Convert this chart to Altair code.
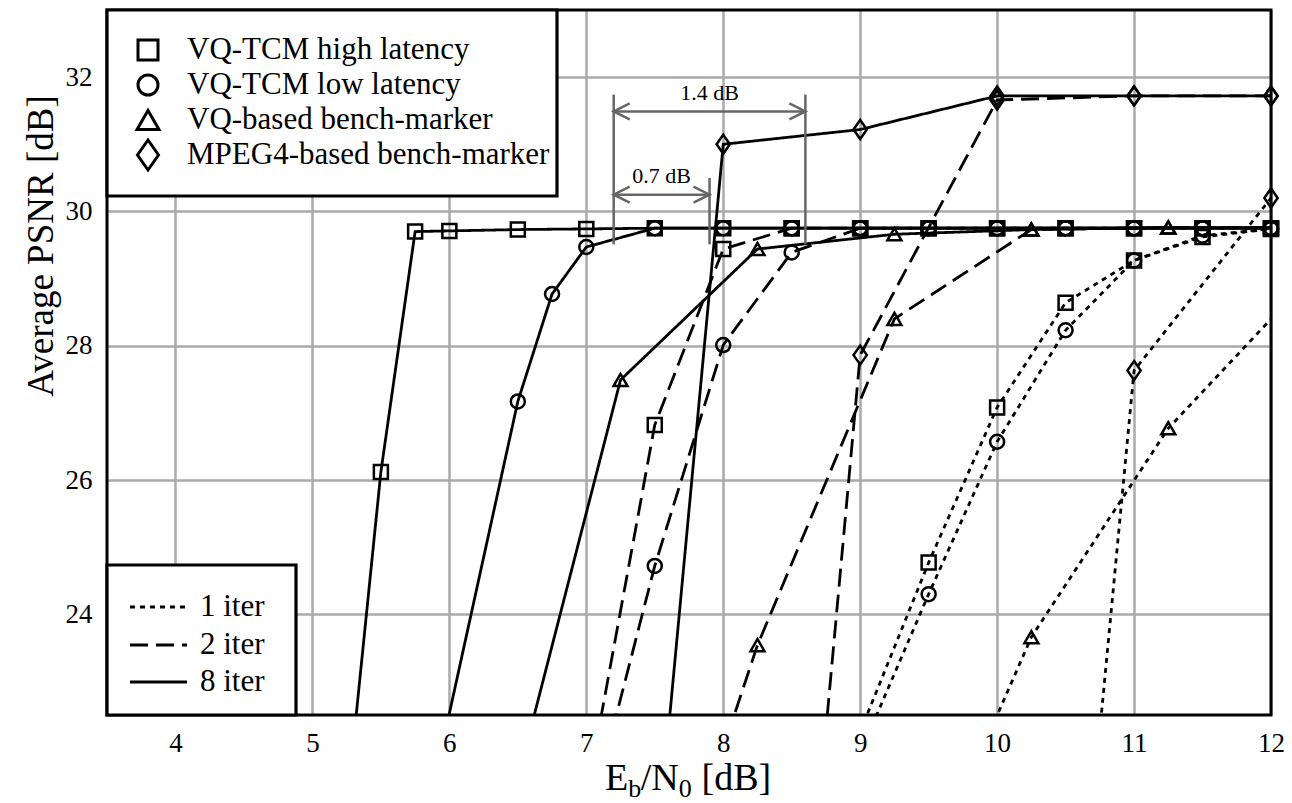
import altair as alt
import pandas as pd

# ---------------- data ----------------
x_ticks = [4, 5, 6, 7, 8, 9, 10, 11, 12]
y_ticks = [24, 26, 28, 30, 32]

scheme_names = ["VQ-TCM high latency", "VQ-TCM low latency",
                "VQ-based bench-marker", "MPEG4-based bench-marker"]
iter_names = ["1 iter", "2 iter", "8 iter"]

# VQ-TCM high latency (squares)
hl1_x = [9.0, 9.5, 10.0, 10.5, 11.0, 11.5, 12.0]
hl1_y = [22.25, 24.77, 27.08, 28.64, 29.27, 29.62, 29.74]
hl2_x = [7.0, 7.5, 8.0, 8.5, 9.0, 9.5, 10.0, 10.5, 11.0, 11.5, 12.0]
hl2_y = [21.28, 26.82, 29.44, 29.75, 29.75, 29.75, 29.75, 29.75, 29.75, 29.75, 29.75]
hl8_x = [5.25, 5.5, 5.75, 6.0, 6.5, 7.0, 7.5, 8.0, 8.5, 9.0, 9.5, 10.0, 10.5, 11.0, 11.5, 12.0]
hl8_y = [21.1, 26.12, 29.70, 29.71, 29.73, 29.74, 29.75, 29.75, 29.75, 29.75, 29.75, 29.75,
         29.75, 29.75, 29.75, 29.75]
# VQ-TCM low latency (circles)
ll1_x = [9.0, 9.5, 10.0, 10.5, 11.0, 11.5, 12.0]
ll1_y = [21.93, 24.30, 26.57, 28.23, 29.27, 29.64, 29.74]
ll2_x = [7.0, 7.5, 8.0, 8.5, 9.0, 9.5, 10.0, 10.5, 11.0, 11.5, 12.0]
ll2_y = [20.76, 24.72, 28.01, 29.39, 29.75, 29.75, 29.75, 29.75, 29.75, 29.75, 29.75]
ll8_x = [5.75, 6.5, 6.75, 7.0, 7.5, 8.0, 8.5, 9.0, 9.5, 10.0, 10.5, 11.0, 11.5, 12.0]
ll8_y = [20.2, 27.17, 28.77, 29.47, 29.75, 29.75, 29.75, 29.75, 29.75, 29.75, 29.75,
         29.75, 29.75, 29.75]
# VQ-based bench-marker (triangles)
vq1_x = [9.25, 10.25, 11.25, 12.25]
vq1_y = [19.0, 23.66, 26.77, 28.94]
vq2_x = [7.25, 8.25, 9.25, 10.25, 11.25, 12.25]
vq2_y = [17.4, 23.54, 28.40, 29.73, 29.76, 29.76]
vq8_x = [6.25, 7.25, 8.25, 9.25, 10.25, 11.25, 12.25]
vq8_y = [19.57, 27.49, 29.44, 29.66, 29.73, 29.76, 29.76]
# MPEG4-based bench-marker (diamonds)
mp1_x = [10.5, 11.0, 12.0]
mp1_y = [16.9, 27.63, 30.2]
mp2_x = [8.5, 9.0, 10.0, 11.0, 12.0]
mp2_y = [16.7, 27.86, 31.66, 31.72, 31.72]
mp8_x = [7.5, 8.0, 9.0, 10.0, 11.0, 12.0]
mp8_y = [20.1, 31.0, 31.22, 31.72, 31.72, 31.72]

# annotation values (dB)
ann_left = 7.2
ann_right = [8.6, 7.9]
ann_arrow_y = [31.49, 30.25]
ann_top = [31.74, 30.5]
ann_bottom = 29.51
ann_text = ["1.4 dB", "0.7 dB"]
ann_text_x = [7.9, 7.55]
ann_text_y = [31.77, 30.53]

# ---------------- layout / style ----------------
W, H = 1164, 705
XMIN, XMAX, YMIN, YMAX = 3.5, 12.0, 22.5, 33.0
FONT = "Liberation Serif"
DIAMOND = "M0,-1L0.7,0L0,1L-0.7,0Z"
shape_of = {scheme_names[0]: "square", scheme_names[1]: "circle",
            scheme_names[2]: "triangle-up", scheme_names[3]: DIAMOND}
size_of = {scheme_names[0]: 196, scheme_names[1]: 196,
           scheme_names[2]: 196, scheme_names[3]: 361}
leg_size_of = {scheme_names[0]: 400, scheme_names[1]: 400,
               scheme_names[2]: 484, scheme_names[3]: 900}
dash_dom = iter_names
dash_rng = [[5, 5], [18, 8], [1, 0]]


def px2x(px):
    return XMIN + px / W * (XMAX - XMIN)


def py2y(py):
    return YMAX - py / H * (YMAX - YMIN)


series = [
    (scheme_names[0], iter_names[0], hl1_x, hl1_y),
    (scheme_names[0], iter_names[1], hl2_x, hl2_y),
    (scheme_names[0], iter_names[2], hl8_x, hl8_y),
    (scheme_names[1], iter_names[0], ll1_x, ll1_y),
    (scheme_names[1], iter_names[1], ll2_x, ll2_y),
    (scheme_names[1], iter_names[2], ll8_x, ll8_y),
    (scheme_names[2], iter_names[0], vq1_x, vq1_y),
    (scheme_names[2], iter_names[1], vq2_x, vq2_y),
    (scheme_names[2], iter_names[2], vq8_x, vq8_y),
    (scheme_names[3], iter_names[0], mp1_x, mp1_y),
    (scheme_names[3], iter_names[1], mp2_x, mp2_y),
    (scheme_names[3], iter_names[2], mp8_x, mp8_y),
]
rows = []
for sch, it, xs, ys in series:
    for xv, yv in zip(xs, ys):
        rows.append({"x": xv, "y": yv, "scheme": sch, "iter": it,
                     "sid": sch + "|" + it, "shape": shape_of[sch],
                     "msize": size_of[sch]})
df = pd.DataFrame(rows)

X = alt.X("x:Q", scale=alt.Scale(domain=[XMIN, XMAX], nice=False, zero=False),
          axis=alt.Axis(values=x_ticks, format="d", title=None, grid=True,
                        gridColor="#aaaaaa", gridWidth=2.5, ticks=False, domain=False,
                        labelFont=FONT, labelFontSize=27, labelColor="black",
                        labelPadding=15, labelFlush=False, labelOverlap=False))
Y = alt.Y("y:Q", scale=alt.Scale(domain=[YMIN, YMAX], nice=False, zero=False),
          axis=alt.Axis(values=y_ticks, format="d", title=None, grid=True,
                        gridColor="#aaaaaa", gridWidth=2.5, ticks=False, domain=False,
                        labelFont=FONT, labelFontSize=27, labelColor="black",
                        labelPadding=15, labelFlush=False, labelOverlap=False))
DASH = alt.StrokeDash("iter:N", scale=alt.Scale(domain=dash_dom, range=dash_rng), legend=None)

lines = alt.Chart(df).mark_line(clip=True, strokeWidth=2.8, color="black").encode(
    x=X, y=Y, detail="sid:N", strokeDash=DASH)

points = alt.Chart(df).transform_filter(
    (alt.datum.y >= YMIN) & (alt.datum.x <= XMAX)
).mark_point(filled=False, color="black", strokeWidth=2.5, opacity=1).encode(
    x=X, y=Y, shape=alt.Shape("shape:N", scale=None), size=alt.Size("msize:Q", scale=None))

# ---- annotations ----
vl_df = pd.DataFrame({"x": [ann_left] + ann_right,
                      "y": [ann_bottom] * 3,
                      "y2": [ann_top[0], ann_top[0], ann_top[1]]})
vlines = alt.Chart(vl_df).mark_rule(color="#666666", strokeWidth=2.5).encode(
    x=X, y=Y, y2="y2:Q")
ar_df = pd.DataFrame({"x": [ann_left, ann_left], "x2": ann_right, "y": ann_arrow_y})
arrows = alt.Chart(ar_df).mark_rule(color="#666666", strokeWidth=2.5).encode(
    x=X, x2="x2:Q", y=Y)
chev_df = pd.DataFrame({
    "x": [ann_left, ann_right[0], ann_left, ann_right[1]],
    "y": [ann_arrow_y[0], ann_arrow_y[0], ann_arrow_y[1], ann_arrow_y[1]],
    "shape": ["M1,-0.5L0,0L1,0.5", "M-1,-0.5L0,0L-1,0.5"] * 2})
chevrons = alt.Chart(chev_df).mark_point(filled=False, color="#666666", strokeWidth=2.5,
                                         opacity=1, size=1024).encode(
    x=X, y=Y, shape=alt.Shape("shape:N", scale=None))
at_df = pd.DataFrame({"x": ann_text_x, "y": ann_text_y, "t": ann_text})
ann_labels = alt.Chart(at_df).mark_text(font=FONT, fontSize=22, color="black",
                                        align="center", baseline="middle").encode(
    x=X, y=Y, text="t:N")

# ---- plot border ----
border_df = pd.DataFrame({"x": [XMIN], "x2": [XMAX], "y": [YMIN], "y2": [YMAX]})
border = alt.Chart(border_df).mark_rect(filled=False, stroke="black", strokeWidth=3).encode(
    x=X, x2="x2:Q", y=Y, y2="y2:Q")

# ---- legend 1 (markers) ----
L1_BOX = (0, 450, 0, 186)
L1_ROWS = [40, 75, 110, 145]
L1_MX, L1_TX = 41, 80
box_df = pd.DataFrame({
    "x": [px2x(L1_BOX[0]), px2x(0)], "x2": [px2x(L1_BOX[1]), px2x(189)],
    "y": [py2y(L1_BOX[3]), py2y(705)], "y2": [py2y(L1_BOX[2]), py2y(555)]})
boxes = alt.Chart(box_df).mark_rect(fill="white", stroke="black", strokeWidth=3.2).encode(
    x=X, x2="x2:Q", y=Y, y2="y2:Q")
l1_df = pd.DataFrame({
    "x": [px2x(L1_MX)] * 4, "tx": [px2x(L1_TX)] * 4,
    "y": [py2y(r) for r in L1_ROWS], "label": scheme_names,
    "shape": [shape_of[s] for s in scheme_names],
    "msize": [leg_size_of[s] for s in scheme_names]})
l1_marks = alt.Chart(l1_df).mark_point(filled=False, color="black", strokeWidth=3,
                                       opacity=1).encode(
    x=X, y=Y, shape=alt.Shape("shape:N", scale=None), size=alt.Size("msize:Q", scale=None))
l1_text = alt.Chart(l1_df).mark_text(font=FONT, fontSize=31, color="black", align="left",
                                     baseline="middle").encode(
    x=alt.X("tx:Q", scale=alt.Scale(domain=[XMIN, XMAX], nice=False, zero=False)), y=Y,
    text="label:N")

# ---- legend 2 (line styles) ----
L2_ROWS = [597, 635, 672]
l2_df = pd.DataFrame({
    "x": [px2x(23)] * 3, "x2": [px2x(80)] * 3, "tx": [px2x(93)] * 3,
    "y": [py2y(r) for r in L2_ROWS], "iter": iter_names})
l2_lines = alt.Chart(l2_df).mark_rule(color="black", strokeWidth=2.8).encode(
    x=X, x2="x2:Q", y=Y, strokeDash=DASH)
l2_text = alt.Chart(l2_df).mark_text(font=FONT, fontSize=31, color="black", align="left",
                                     baseline="middle").encode(
    x=alt.X("tx:Q", scale=alt.Scale(domain=[XMIN, XMAX], nice=False, zero=False)), y=Y,
    text="iter:N")

# ---- axis titles (as text, with subscripts) ----
xt_df = pd.DataFrame({
    "t": ["E", "b", "/N", "0", "[dB]"],
    "x": [px2x(p) for p in [498, 521.2, 533.7, 571.7, 594.5]],
    "y": [py2y(p) for p in [780, 787, 780, 787, 780]],
    "fs": [38, 26, 38, 26, 38]})
x_title = alt.Chart(xt_df).mark_text(font=FONT, color="black", align="left",
                                     baseline="alphabetic").encode(
    x=X, y=Y, text="t:N", size=alt.Size("fs:Q", scale=None))
yt_df = pd.DataFrame({"t": ["Average PSNR [dB]"], "x": [px2x(-65)], "y": [py2y(236)]})
y_title = alt.Chart(yt_df).mark_text(font=FONT, fontSize=37, color="black", angle=270,
                                     align="center", baseline="middle").encode(
    x=X, y=Y, text="t:N")

chart = alt.layer(
    lines, points, vlines, arrows, chevrons, ann_labels, border,
    boxes, l1_marks, l1_text, l2_lines, l2_text, x_title, y_title
).properties(
    width=W, height=H, autosize="none",
    padding={"left": 107, "top": 10, "right": 21, "bottom": 88},
    background="white"
).configure_view(stroke="transparent")

chart.save("out.html", embed_options={"renderer": "svg", "actions": False})
